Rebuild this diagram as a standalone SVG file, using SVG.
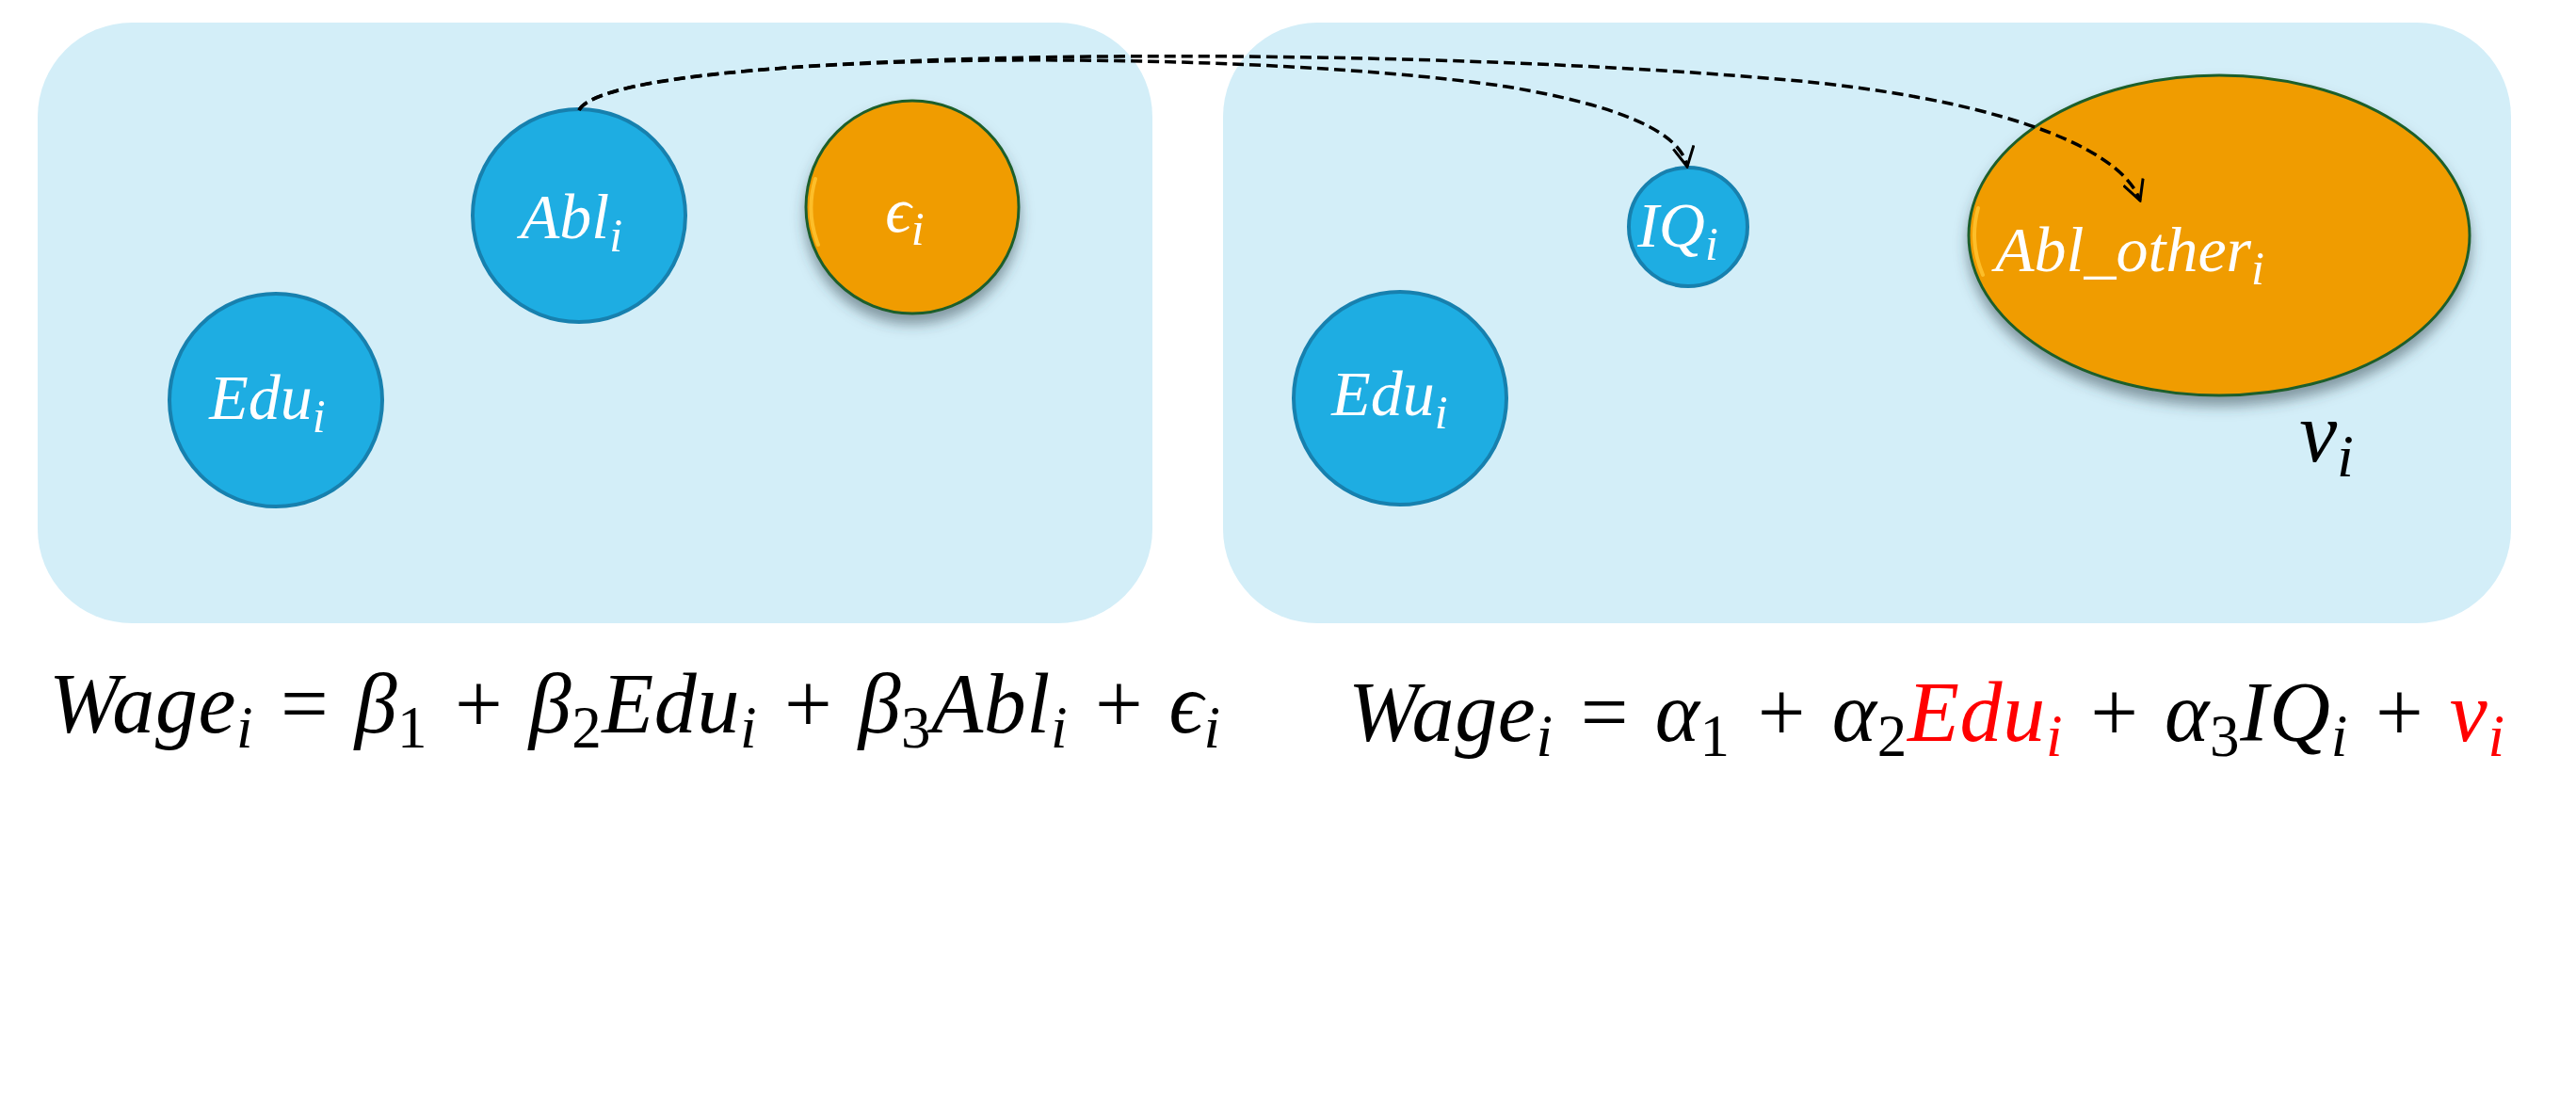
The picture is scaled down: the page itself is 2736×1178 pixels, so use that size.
<svg xmlns="http://www.w3.org/2000/svg" width="2736" height="1178" viewBox="0 0 2736 1178">
<style>
.panel{fill:#D3EEF8;}
.blue{fill:#1EADE2;stroke:#1780AE;stroke-width:4;}
.orange{fill:#F09C04;stroke:#1F5E2A;stroke-width:3;filter:url(#sh);}
.glint{fill:none;stroke:#FFC430;stroke-width:4;stroke-linecap:round;opacity:0.85;}
.lbl{font-family:"Liberation Serif","DejaVu Serif",serif;font-style:italic;fill:#fff;font-size:68px;text-anchor:middle;}
.eq{font-family:"Liberation Serif","DejaVu Serif",serif;font-style:italic;fill:#000;font-size:90px;}
.up{font-style:normal;}
.red{fill:#FF0000;}
.conn{fill:none;stroke:#000;stroke-width:3.5;stroke-dasharray:12 6;marker-end:url(#arr);}
</style>
<defs>
<filter id="sh" x="-20%" y="-20%" width="140%" height="150%">
<feDropShadow dx="0" dy="10" stdDeviation="7" flood-color="#2f4349" flood-opacity="0.5"/>
</filter>
<marker id="arr" viewBox="0 0 24 24" refX="22" refY="12" markerWidth="24" markerHeight="24" markerUnits="userSpaceOnUse" orient="auto">
<path d="M1,1 L22,12 L1,23" fill="none" stroke="#000" stroke-width="3"/>
</marker>
</defs>
<rect class="panel" x="40" y="24" width="1184" height="638" rx="100" ry="100"/>
<rect class="panel" x="1299" y="24" width="1368" height="638" rx="100" ry="100"/>

<g id="node-edu-left">
<circle class="blue" cx="293" cy="425" r="113"/>
<text class="lbl" x="284" y="445">Edu<tspan font-size="50" dy="14">i</tspan></text>
</g>
<g id="node-abl">
<circle class="blue" cx="615" cy="229" r="113"/>
<text class="lbl" x="607" y="253">Abl<tspan font-size="50" dy="14">i</tspan></text>
</g>
<g id="node-eps">
<circle class="orange" cx="969" cy="220" r="113"/>
<path class="glint" d="M866,190 A108,108 0 0 0 869,260"/>
<text class="lbl" x="961" y="246">ϵ<tspan font-size="50" dy="14">i</tspan></text>
</g>
<g id="node-iq">
<circle class="blue" cx="1793" cy="241" r="63"/>
<text class="lbl" x="1782" y="262">IQ<tspan font-size="50" dy="14">i</tspan></text>
</g>
<g id="node-edu-right">
<circle class="blue" cx="1487" cy="423" r="113"/>
<text class="lbl" x="1476" y="441">Edu<tspan font-size="50" dy="14">i</tspan></text>
</g>
<g id="node-abl-other">
<ellipse class="orange" cx="2357" cy="250" rx="266" ry="170"/>
<path class="glint" d="M2101,221 A260,164 0 0 0 2106,292"/>
<text class="lbl" x="2262" y="288">Abl_other<tspan font-size="50" dy="14">i</tspan></text>
</g>
<g id="label-v">
<text class="eq" x="2471" y="490" font-size="92" text-anchor="middle">v<tspan font-size="64" dy="16">i</tspan></text>
</g>

<g id="connectors">
<path class="conn" d="M615,117 C650,55 1300,48 1600,92 C1720,112 1785,140 1792,177"/>
<path class="conn" d="M615,117 C650,50 1450,45 1900,85 C2100,103 2250,150 2273,213"/>
</g>

<g id="equation-left">
<text class="eq" x="52" y="778" textLength="1244" lengthAdjust="spacing">Wage<tspan font-size="63" dy="16">i</tspan><tspan dy="-16"> = β</tspan><tspan class="up" font-size="63" dy="16">1</tspan><tspan dy="-16"> + β</tspan><tspan class="up" font-size="63" dy="16">2</tspan><tspan dy="-16">Edu</tspan><tspan font-size="63" dy="16">i</tspan><tspan dy="-16"> + β</tspan><tspan class="up" font-size="63" dy="16">3</tspan><tspan dy="-16">Abl</tspan><tspan font-size="63" dy="16">i</tspan><tspan dy="-16"> + ϵ</tspan><tspan font-size="63" dy="16">i</tspan></text>
</g>
<g id="equation-right">
<text class="eq" x="1432" y="787" textLength="1228" lengthAdjust="spacing">Wage<tspan font-size="63" dy="16">i</tspan><tspan dy="-16"> = α</tspan><tspan class="up" font-size="63" dy="16">1</tspan><tspan dy="-16"> + α</tspan><tspan class="up" font-size="63" dy="16">2</tspan><tspan class="red" dy="-16">Edu</tspan><tspan class="red" font-size="63" dy="16">i</tspan><tspan dy="-16"> + α</tspan><tspan class="up" font-size="63" dy="16">3</tspan><tspan dy="-16">IQ</tspan><tspan font-size="63" dy="16">i</tspan><tspan dy="-16"> + </tspan><tspan class="red">v</tspan><tspan class="red" font-size="63" dy="16">i</tspan></text>
</g>
</svg>
